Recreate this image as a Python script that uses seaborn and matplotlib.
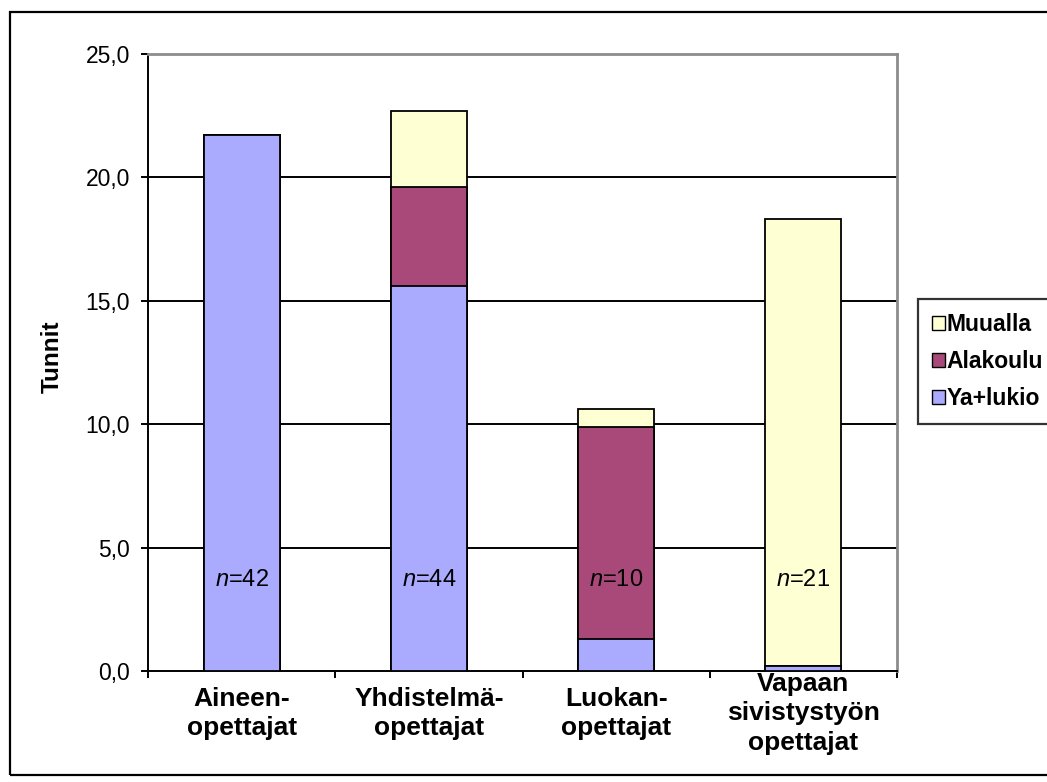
import matplotlib
matplotlib.use("Agg")
import matplotlib.pyplot as plt
from matplotlib.patches import Rectangle, Patch
from matplotlib.ticker import FixedLocator, FuncFormatter
import numpy as np
import seaborn as sns

# Teaching hours per week by teacher group, split by where they are taught
categories = ["Aineen-\nopettajat", "Yhdistelmä-\nopettajat", "Luokan-\nopettajat",
              "Vapaan\nsivistystyön\nopettajat"]
ya_lukio = [21.7, 15.6, 1.3, 0.2]
alakoulu = [0.0, 4.0, 8.6, 0.0]
muualla = [0.0, 3.1, 0.7, 18.1]
n_labels = ["42", "44", "10", "21"]
series_names = ["Muualla", "Alakoulu", "Ya+lukio"]
y_ticks = [0, 5, 10, 15, 20, 25]

colors = {"Ya+lukio": "#AAAAFF", "Alakoulu": "#A8497A", "Muualla": "#FFFFD4"}

plt.rcParams["font.family"] = ["Liberation Sans", "DejaVu Sans"]
plt.rcParams["mathtext.fontset"] = "custom"
plt.rcParams["mathtext.it"] = "Liberation Sans:italic"
plt.rcParams["mathtext.rm"] = "Liberation Sans"

W, H = 1047, 782
fig = plt.figure(figsize=(W / 100, H / 100), dpi=100)
ax = fig.add_axes([148 / W, 1 - 671 / H, (897 - 148) / W, (671 - 54) / H])

# cumulative stacks, drawn from the tallest down so each layer sits on the previous
ya = np.array(ya_lukio)
lvl2 = ya + np.array(alakoulu)
lvl3 = lvl2 + np.array(muualla)
bar_kw = dict(width=0.405, edgecolor="black", linewidth=1.3, saturation=1, ax=ax, zorder=3)
sns.barplot(x=categories, y=lvl3, color=colors["Muualla"], **bar_kw)
sns.barplot(x=categories, y=lvl2, color=colors["Alakoulu"], **bar_kw)
sns.barplot(x=categories, y=ya, color=colors["Ya+lukio"], **bar_kw)

# gridlines
for v in y_ticks[1:-1]:
    ax.axhline(v, color="black", lw=1.4, zorder=1)

ax.set_ylim(0, 25)
ax.set_xlim(-0.5, 3.5)

ax.spines["top"].set_color("#8C8C8C")
ax.spines["right"].set_color("#8C8C8C")
ax.spines["top"].set_linewidth(2.0)
ax.spines["right"].set_linewidth(2.0)
ax.spines["left"].set_linewidth(1.4)
ax.spines["bottom"].set_linewidth(1.4)

ax.yaxis.set_major_locator(FixedLocator(y_ticks))
ax.yaxis.set_major_formatter(FuncFormatter(lambda v, p: f"{v:.1f}".replace(".", ",")))
ax.tick_params(axis="y", direction="out", length=5, width=1.4, labelsize=16.5, pad=8)

ax.set_xticks(range(len(categories)))
ax.set_xticklabels([])
ax.tick_params(axis="x", which="major", length=0)
ax.set_xticks(np.arange(-0.5, 4, 1.0), minor=True)
ax.tick_params(axis="x", which="minor", direction="out", length=5, width=1.4)

for i, lab in enumerate(categories):
    ax.text(i, -1.72, lab, ha="center", va="center", fontsize=19, fontweight="bold",
            linespacing=1.3, clip_on=False)

ax.set_xlabel("")
ax.set_ylabel("")
fig.text(52 / W, 1 - 357 / H, "Tunnit", rotation=90, ha="center", va="center",
         fontsize=17.5, fontweight="bold")

for i, n in enumerate(n_labels):
    ax.text(i, 3.7, r"$\it{n}$=" + n, ha="center", va="center", fontsize=17, zorder=5)

handles = [Patch(facecolor=colors[s], edgecolor="black", linewidth=1.0) for s in series_names]
leg = fig.legend(handles, series_names, loc="upper left",
                 bbox_to_anchor=(918 / W, 1 - 299 / H), frameon=True, fancybox=False,
                 edgecolor="black", prop={"weight": "bold", "size": 16.5},
                 handlelength=0.58, handleheight=0.58, handletextpad=0.08,
                 labelspacing=0.62, borderpad=0.6, borderaxespad=0)
leg.get_frame().set_linewidth(1.6)

# outer chart border
fig.patches.append(Rectangle((10 / W, 1 - 775 / H), (W + 20) / W, (775 - 12) / H,
                             transform=fig.transFigure, fill=False, edgecolor="black",
                             linewidth=1.6, clip_on=False))

fig.savefig("out.png", dpi=100)
